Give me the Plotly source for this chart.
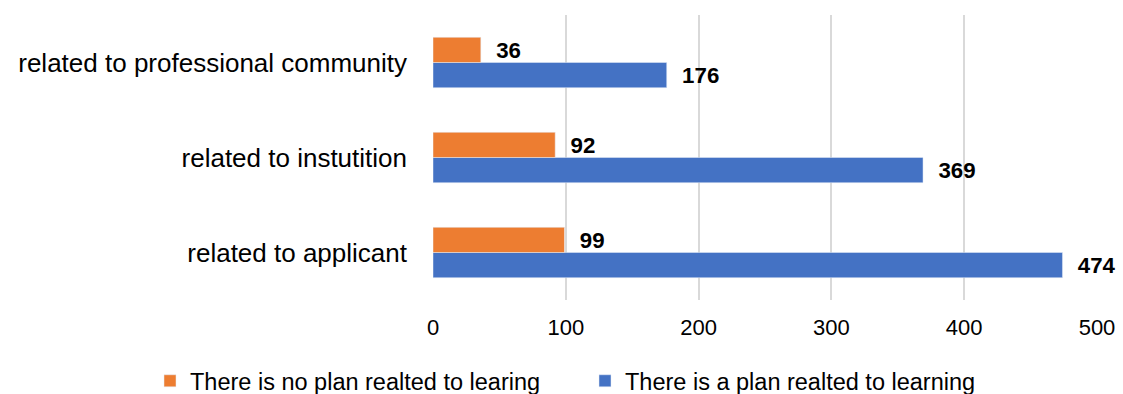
import plotly.graph_objects as go

categories = ["related to applicant", "related to instutition", "related to professional community"]
no_plan = [99, 92, 36]
with_plan = [474, 369, 176]
x_ticks = [0, 100, 200, 300, 400, 500]

ORANGE = "#ED7D31"
BLUE = "#4472C4"
PAD = "\u00a0\u00a0"  # keeps value labels a little away from bar ends

fig = go.Figure()
fig.add_trace(go.Bar(
    y=categories, x=with_plan, orientation="h", name="There is a plan realted to learning",
    marker=dict(color=BLUE), legend="legend2",
    text=[f"{PAD}<b>{v}</b>" for v in with_plan], textposition="outside",
    textfont=dict(size=23, color="#000000"), cliponaxis=False,
))
fig.add_trace(go.Bar(
    y=categories, x=no_plan, orientation="h", name="There is no plan realted to learing",
    marker=dict(color=ORANGE), legend="legend",
    text=[f"{PAD}<b>{v}</b>" for v in no_plan], textposition="outside",
    textfont=dict(size=23, color="#000000"), cliponaxis=False,
))

legend_common = dict(orientation="h", xref="container", yref="container",
                     xanchor="left", y=1 - 381 / 394, yanchor="middle",
                     font=dict(size=23.5, color="#000000"), itemwidth=30)

fig.update_layout(
    width=1123, height=394,
    margin=dict(l=433, r=26, t=15, b=94, autoexpand=False),
    paper_bgcolor="white", plot_bgcolor="white",
    barmode="group", bargap=0.47, bargroupgap=0,
    font=dict(family="Liberation Sans, Arial, sans-serif", color="#000000"),
    showlegend=True,
    legend=dict(x=150 / 1123, **legend_common),
    legend2=dict(x=585 / 1123, **legend_common),
    xaxis=dict(range=[0, 500], tickvals=x_ticks, showgrid=True, gridcolor="#D9D9D9",
               gridwidth=1.5, zeroline=False, showline=False, ticks="",
               tickfont=dict(size=22, color="#000000"), ticklabelstandoff=12),
    yaxis=dict(categoryorder="array", categoryarray=categories, showgrid=False,
               showline=False, ticks="", tickfont=dict(size=26, color="#000000"),
               ticklabelstandoff=25),
)

fig.write_html("out.html")
